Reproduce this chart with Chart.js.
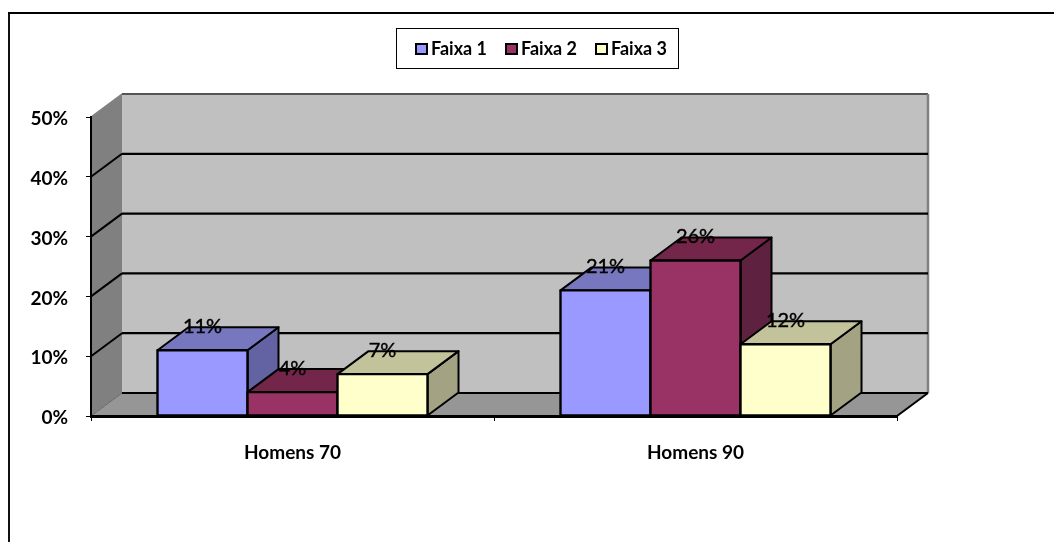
<!DOCTYPE html>
<html>
<head>
<meta charset="utf-8">
<title>Faixas</title>
<script src="https://cdn.jsdelivr.net/npm/chart.js@4/dist/chart.umd.min.js"></script>
<style>
  html, body { margin: 0; padding: 0; background: #fff; }
  canvas { display: block; }
</style>
</head>
<body>
<canvas id="chart" width="1054" height="542"></canvas>
<script>
const categories = ['Homens 70', 'Homens 90'];
const seriesNames = ['Faixa 1', 'Faixa 2', 'Faixa 3'];
const faixa1 = [11, 21];
const faixa2 = [4, 26];
const faixa3 = [7, 12];

const frontColors = ['#9999FF', '#993366', '#FFFFCC'];
const topColors = ['#7777BF', '#732649', '#C2C29B'];
const sideColors = ['#6363A3', '#5F2140', '#A3A383'];

const DEPTH_X = 31;
const DEPTH_Y = 23;

function poly(ctx, pts, fill, stroke, lineWidth) {
  ctx.beginPath();
  pts.forEach((p, i) => (i ? ctx.lineTo(p[0], p[1]) : ctx.moveTo(p[0], p[1])));
  ctx.closePath();
  if (fill) {
    ctx.fillStyle = fill;
    ctx.fill();
  }
  if (stroke) {
    ctx.strokeStyle = stroke;
    ctx.lineWidth = lineWidth;
    ctx.lineJoin = 'round';
    ctx.stroke();
  }
}

function line(ctx, x1, y1, x2, y2, color, width) {
  ctx.beginPath();
  ctx.moveTo(x1, y1);
  ctx.lineTo(x2, y2);
  ctx.strokeStyle = color;
  ctx.lineWidth = width;
  ctx.stroke();
}

// outer frame, legend box
const framePlugin = {
  id: 'frame',
  beforeDraw(chart) {
    const ctx = chart.ctx;
    ctx.save();
    line(ctx, 9, 12, 9, 542, '#111', 2);
    line(ctx, 8, 13, 1054, 13, '#000', 2);
    ctx.restore();
  },
  afterDraw(chart) {
    const ctx = chart.ctx;
    ctx.save();
    ctx.fillStyle = '#fff';
    ctx.fillRect(396.5, 28.5, 282, 40);
    ctx.strokeStyle = '#000';
    ctx.lineWidth = 1;
    ctx.strokeRect(396.5, 28.5, 282, 40);
    ctx.font = 'bold 18px Lato';
    ctx.textBaseline = 'middle';
    ctx.textAlign = 'left';
    chart.data.datasets.forEach((ds, i) => {
      const x = 415 + i * 90;
      ctx.fillStyle = '#000';
      ctx.fillRect(x, 43, 13, 12);
      ctx.fillStyle = ds.backgroundColor;
      ctx.fillRect(x + 2, 45, 9, 8);
      ctx.fillStyle = '#000';
      ctx.fillText(ds.label, x + 16, 49);
    });
    ctx.restore();
  },
};

// back wall, side wall, floor and their gridlines, then the bars
const wallsPlugin = {
  id: 'walls',
  beforeDatasetsDraw(chart) {
    const ctx = chart.ctx;
    const { left, right, top, bottom } = chart.chartArea;
    const y = chart.scales.y;
    ctx.save();
    poly(ctx, [[left + DEPTH_X, top - DEPTH_Y], [right + DEPTH_X, top - DEPTH_Y], [right + DEPTH_X, bottom - DEPTH_Y], [left + DEPTH_X, bottom - DEPTH_Y]], '#C0C0C0');
    poly(ctx, [[left, top], [left + DEPTH_X, top - DEPTH_Y], [left + DEPTH_X, bottom - DEPTH_Y], [left, bottom]], '#808080');
    poly(ctx, [[left, bottom], [left + DEPTH_X, bottom - DEPTH_Y], [right + DEPTH_X, bottom - DEPTH_Y], [right, bottom]], '#969696');
    line(ctx, left, top, left + DEPTH_X, top - DEPTH_Y, '#808080', 1.5);
    line(ctx, left + DEPTH_X, top - DEPTH_Y, right + DEPTH_X, top - DEPTH_Y, '#555', 2);
    line(ctx, right + DEPTH_X, top - DEPTH_Y, right + DEPTH_X, bottom - DEPTH_Y, '#808080', 2.5);
    y.ticks.forEach((t) => {
      const py = y.getPixelForValue(t.value);
      if (t.value === y.max) return;
      if (t.value === 0) {
        line(ctx, left, py, left + DEPTH_X, py - DEPTH_Y, '#666', 1);
      } else {
        line(ctx, left, py, left + DEPTH_X, py - DEPTH_Y, '#000', 2);
      }
      line(ctx, left + DEPTH_X, py - DEPTH_Y, right + DEPTH_X, py - DEPTH_Y, '#000', 2.2);
    });
    line(ctx, right, bottom, right + DEPTH_X, bottom - DEPTH_Y, '#000', 2);

    // left to right, so each bar covers the depth of the previous one
    chart.data.datasets.forEach((ds, i) => {
      chart.getDatasetMeta(i).data.forEach((bar) => {
        const p = bar.getProps(['x', 'y', 'base', 'width']);
        const l = p.x - p.width / 2;
        const r = p.x + p.width / 2;
        poly(ctx, [[r, p.y], [r + DEPTH_X, p.y - DEPTH_Y], [r + DEPTH_X, p.base - DEPTH_Y], [r, p.base]], sideColors[i], '#000', 2);
        poly(ctx, [[l, p.y], [l + DEPTH_X, p.y - DEPTH_Y], [r + DEPTH_X, p.y - DEPTH_Y], [r, p.y]], topColors[i], '#000', 2);
        bar.draw(ctx);
        // outline centred on the edge, so neighbouring bars share one line
        ctx.strokeStyle = '#000';
        ctx.lineWidth = 2.4;
        ctx.strokeRect(l, p.y, p.width, p.base - p.y);
      });
    });
    ctx.restore();
  },
  // bars are already drawn above
  beforeDatasetDraw() {
    return false;
  },
  // value labels
  afterDatasetsDraw(chart) {
    const ctx = chart.ctx;
    ctx.save();
    ctx.font = '20px Lato';
    ctx.fillStyle = '#000';
    ctx.strokeStyle = '#000';
    ctx.lineWidth = 0.4;
    ctx.textAlign = 'center';
    ctx.textBaseline = 'middle';
    chart.data.datasets.forEach((ds, i) => {
      chart.getDatasetMeta(i).data.forEach((bar, j) => {
        ctx.fillText(ds.data[j] + '%', bar.x, bar.y - 24);
        ctx.strokeText(ds.data[j] + '%', bar.x, bar.y - 24);
      });
    });
    ctx.restore();
  },
};

new Chart(document.getElementById('chart'), {
  type: 'bar',
  data: {
    labels: categories,
    datasets: [faixa1, faixa2, faixa3].map((values, i) => ({
      label: seriesNames[i],
      data: values,
      backgroundColor: frontColors[i],
      borderWidth: 0,
      categoryPercentage: 0.67,
      barPercentage: 1,
    })),
  },
  options: {
    responsive: false,
    animation: false,
    layout: { padding: { left: 0, right: 157, top: 117, bottom: 0 } },
    plugins: {
      legend: { display: false },
      tooltip: { enabled: false },
    },
    scales: {
      x: {
        afterFit: (scale) => { scale.height = 126; },
        grid: { drawOnChartArea: false, color: '#000', tickLength: 5, offset: true },
        border: { color: '#000', width: 3, z: 1 },
        ticks: { color: '#000', font: { family: 'Lato', size: 19, weight: 'bold' }, padding: 20, maxRotation: 0 },
      },
      y: {
        min: 0,
        max: 50,
        afterFit: (scale) => { scale.width = 91; },
        grid: { drawOnChartArea: false, color: '#000', tickLength: 5 },
        border: { color: '#000', width: 2, z: 1 },
        ticks: {
          stepSize: 10,
          color: '#000',
          padding: 18,
          labelOffset: 2,
          font: { family: 'Lato', size: 19, weight: 'bold' },
          callback: (v) => v + '%',
        },
      },
    },
  },
  plugins: [framePlugin, wallsPlugin],
});
</script>
</body>
</html>
